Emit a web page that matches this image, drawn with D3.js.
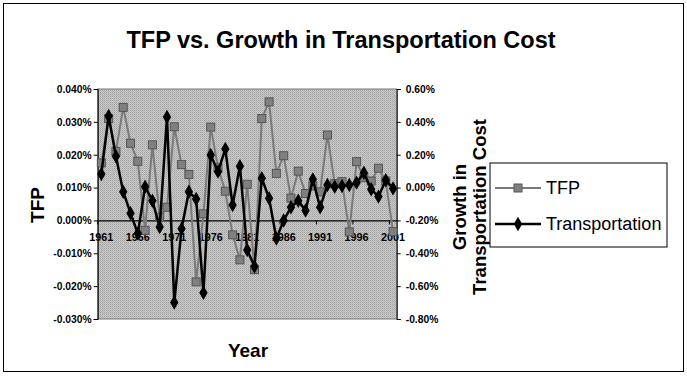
<!DOCTYPE html>
<html>
<head>
<meta charset="utf-8">
<title>TFP vs. Growth in Transportation Cost</title>
<script src="https://d3js.org/d3.v7.min.js"></script>
<style>
  body { margin: 0; background: #fff; }
  text { font-family: "Liberation Sans", Arial, sans-serif; }
  .tick text { font-weight: bold; font-size: 10.3px; fill: #000; }
</style>
</head>
<body>
<div id="chart"></div>
<script>
// categories
var years = [1961,1962,1963,1964,1965,1966,1967,1968,1969,1970,
             1971,1972,1973,1974,1975,1976,1977,1978,1979,1980,
             1981,1982,1983,1984,1985,1986,1987,1988,1989,1990,
             1991,1992,1993,1994,1995,1996,1997,1998,1999,2000,2001];

// TFP, in percent (left axis)
var tfp = [0.0175, 0.031, 0.021, 0.0344, 0.0235, 0.018, -0.003, 0.023, 0.001, 0.004,
           0.0285, 0.017, 0.014, -0.0187, 0.002, 0.0284, 0.016, 0.0089, -0.0044, -0.012,
           0.011, -0.015, 0.031, 0.0361, 0.0143, 0.0197, 0.0068, 0.015, 0.0082, 0.0105,
           0.0087, 0.026, 0.0112, 0.0118, -0.0035, 0.0179, 0.013, 0.012, 0.0159, 0.012, -0.0034];

// growth in transportation cost, in percent (right axis)
var transport = [0.083, 0.436, 0.19, -0.025, -0.156, -0.28, 0.005, -0.08, -0.24, 0.43,
                 -0.70, -0.25, -0.025, -0.07, -0.64, 0.198, 0.097, 0.235, -0.106, 0.13,
                 -0.38, -0.48, 0.057, -0.065, -0.31, -0.20, -0.12, -0.08, -0.14, 0.05,
                 -0.12, 0.016, 0.005, 0.01, 0.016, 0.03, 0.09, -0.01, -0.055, 0.045, -0.005];

// tick labels
var leftTicks = [0.04, 0.03, 0.02, 0.01, 0, -0.01, -0.02, -0.03];
var leftLabels = ["0.040%","0.030%","0.020%","0.010%","0.000%","-0.010%","-0.020%","-0.030%"];
var rightTicks = [0.6, 0.4, 0.2, 0, -0.2, -0.4, -0.6, -0.8];
var rightLabels = ["0.60%","0.40%","0.20%","0.00%","-0.20%","-0.40%","-0.60%","-0.80%"];
var yearLabels = [1961,1966,1971,1976,1981,1986,1991,1996,2001];

var width = 687, height = 377;
var plot = {left: 97.7, right: 396.7, top: 89, bottom: 319};

var svg = d3.select("#chart").append("svg")
    .attr("width", width)
    .attr("height", height);

// dithered grey like the scan
var defs = svg.append("defs");
var pat = defs.append("pattern")
    .attr("id", "dither")
    .attr("width", 2).attr("height", 2)
    .attr("patternUnits", "userSpaceOnUse");
pat.append("rect").attr("width", 2).attr("height", 2).attr("fill", "#c8c8c8");
pat.append("rect").attr("width", 1).attr("height", 1).attr("fill", "#a4a4a4");
pat.append("rect").attr("x", 1).attr("y", 1).attr("width", 1).attr("height", 1).attr("fill", "#b4b4b4");

// outer border
svg.append("rect")
    .attr("x", 3.5).attr("y", 3.5)
    .attr("width", 680).attr("height", 368)
    .attr("fill", "#fff")
    .attr("stroke", "#000")
    .attr("stroke-width", 1);

var x = d3.scaleBand().domain(years).range([plot.left, plot.right]).padding(0);
var yL = d3.scaleLinear().domain([-0.03, 0.04]).range([plot.bottom, plot.top]);
var yR = d3.scaleLinear().domain([-0.8, 0.6]).range([plot.bottom, plot.top]);
var cx = function(yr) { return x(yr) + x.bandwidth() / 2; };

// plot area
svg.append("rect")
    .attr("x", plot.left).attr("y", plot.top)
    .attr("width", plot.right - plot.left)
    .attr("height", plot.bottom - plot.top)
    .attr("fill", "url(#dither)")
    .attr("stroke", "#777")
    .attr("stroke-width", 1);

// left axis
var gL = svg.append("g")
    .attr("transform", "translate(" + plot.left + ",0)")
    .call(d3.axisLeft(yL).tickValues(leftTicks).tickSize(4).tickPadding(2)
        .tickFormat(function(d, i) { return leftLabels[i]; }));
gL.select(".domain").attr("stroke", "#000");

// right axis
var gR = svg.append("g")
    .attr("transform", "translate(" + plot.right + ",0)")
    .call(d3.axisRight(yR).tickValues(rightTicks).tickSize(4).tickPadding(5)
        .tickFormat(function(d, i) { return rightLabels[i]; }));
gR.select(".domain").attr("stroke", "#000");

// category axis on the zero line of the left scale
var gX = svg.append("g")
    .attr("transform", "translate(0," + yL(0) + ")")
    .call(d3.axisBottom(x).tickValues(yearLabels).tickSize(0).tickPadding(13));
gX.select(".domain").attr("stroke", "#000").attr("stroke-width", 1.2);
gX.selectAll(".tick text").style("font-size", "10.8px");
gX.selectAll(".boundary")
    .data(yearLabels)
    .enter().append("line")
    .attr("class", "boundary")
    .attr("x1", function(d) { return x(d); })
    .attr("x2", function(d) { return x(d); })
    .attr("y1", 0).attr("y2", 4)
    .attr("stroke", "#000");

// TFP series
var tfpLine = d3.line()
    .x(function(d, i) { return cx(years[i]); })
    .y(function(d) { return yL(d); });
svg.append("path")
    .datum(tfp)
    .attr("d", tfpLine)
    .attr("fill", "none")
    .attr("stroke", "#7a7a7a")
    .attr("stroke-width", 2);
svg.selectAll(".tfp")
    .data(tfp)
    .enter().append("rect")
    .attr("class", "tfp")
    .attr("x", function(d, i) { return cx(years[i]) - 4; })
    .attr("y", function(d) { return yL(d) - 4; })
    .attr("width", 8).attr("height", 8)
    .attr("fill", "#808080")
    .attr("stroke", "#555")
    .attr("stroke-width", 1);

// transportation series
var trLine = d3.line()
    .x(function(d, i) { return cx(years[i]); })
    .y(function(d) { return yR(d); });
svg.append("path")
    .datum(transport)
    .attr("d", trLine)
    .attr("fill", "none")
    .attr("stroke", "#000")
    .attr("stroke-width", 2.5);
var diamond = d3.symbol().type(d3.symbolDiamond).size(60);
svg.selectAll(".tr")
    .data(transport)
    .enter().append("path")
    .attr("class", "tr")
    .attr("d", diamond)
    .attr("transform", function(d, i) { return "translate(" + cx(years[i]) + "," + yR(d) + ")"; })
    .attr("fill", "#000");

// titles
svg.append("text")
    .attr("x", 341).attr("y", 48)
    .attr("text-anchor", "middle")
    .style("font-weight", "bold")
    .style("font-size", "23.5px")
    .text("TFP vs. Growth in Transportation Cost");

svg.append("text")
    .attr("x", 248).attr("y", 357)
    .attr("text-anchor", "middle")
    .style("font-weight", "bold")
    .style("font-size", "19px")
    .text("Year");

svg.append("text")
    .attr("transform", "translate(44,205) rotate(-90)")
    .attr("text-anchor", "middle")
    .style("font-weight", "bold")
    .style("font-size", "19px")
    .text("TFP");

var rt = svg.append("text")
    .attr("transform", "translate(466,207) rotate(-90)")
    .attr("text-anchor", "middle")
    .style("font-weight", "bold")
    .style("font-size", "18.5px");
rt.append("tspan").attr("x", 0).attr("dy", 0).text("Growth in");
rt.append("tspan").attr("x", 0).attr("dy", 20).text("Transportation Cost");

// legend
var leg = svg.append("g").attr("transform", "translate(490,163)");
leg.append("rect")
    .attr("width", 177).attr("height", 84)
    .attr("fill", "#fff")
    .attr("stroke", "#000");
var items = [
  {name: "TFP", y: 25},
  {name: "Transportation", y: 61}
];
items.forEach(function(it, k) {
  leg.append("line")
      .attr("x1", 5).attr("x2", 51)
      .attr("y1", it.y).attr("y2", it.y)
      .attr("stroke", k === 0 ? "#7a7a7a" : "#000")
      .attr("stroke-width", k === 0 ? 2 : 2.5);
  if (k === 0) {
    leg.append("rect")
        .attr("x", 24).attr("y", it.y - 4)
        .attr("width", 8).attr("height", 8)
        .attr("fill", "#808080").attr("stroke", "#555");
  } else {
    leg.append("path")
        .attr("d", diamond)
        .attr("transform", "translate(28," + it.y + ")")
        .attr("fill", "#000");
  }
  leg.append("text")
      .attr("x", 56).attr("y", it.y + 6)
      .style("font-size", "18px")
      .text(it.name);
});
</script>
</body>
</html>
